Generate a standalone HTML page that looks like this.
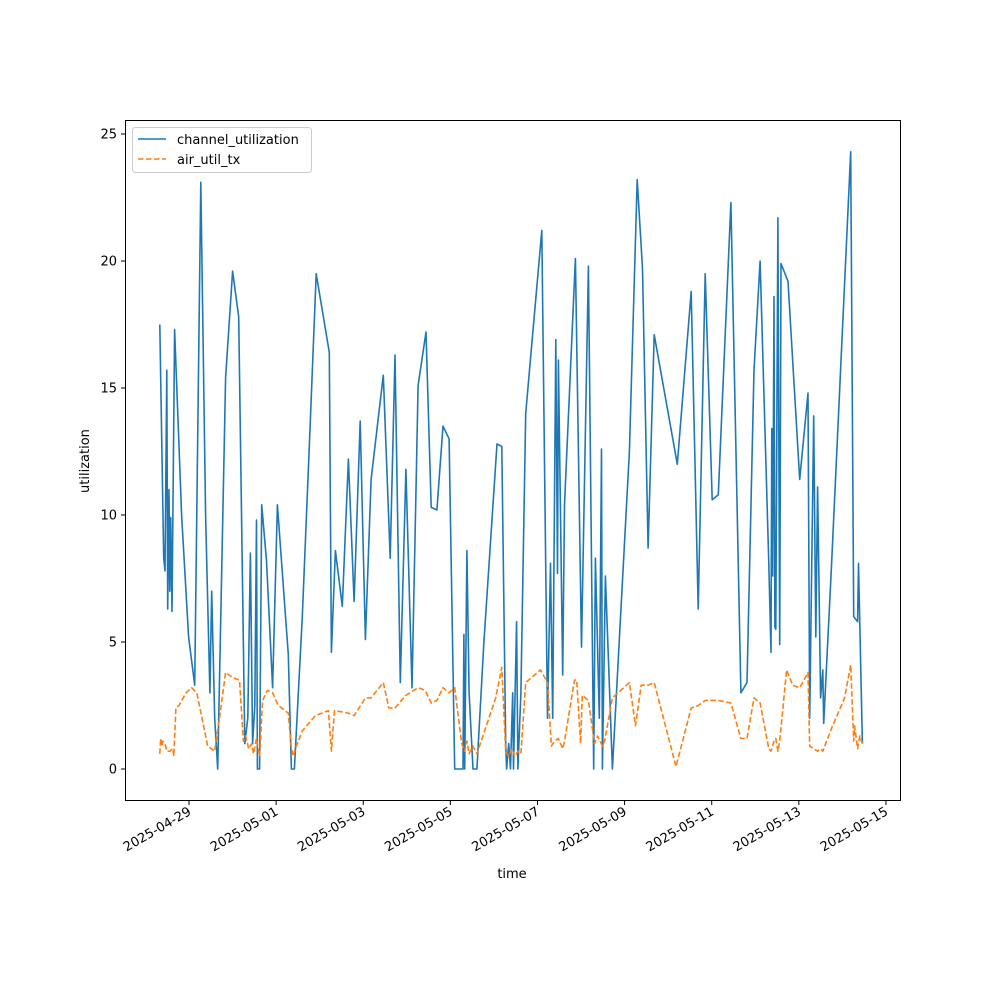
<!DOCTYPE html>
<html><head><meta charset="utf-8"><style>
body{margin:0;background:#fff}
svg{display:block;font-family:"DejaVu Sans","Liberation Sans",sans-serif}
</style></head><body>
<svg width="1000" height="1000" viewBox="0 0 1000 1000">
<g id="plot"></g>
</svg>
<script>
// time: days since 2025-04-28 09:36 (tick 2025-04-29 at 0.6)
const chanTime=[-0.07,0.02,0.05,0.09,0.11,0.14,0.16,0.18,0.21,0.27,0.43,0.59,0.73,0.87,0.98,1.08,1.12,1.19,1.26,1.44,1.60,1.74,1.88,1.95,2.01,2.06,2.11,2.15,2.17,2.22,2.27,2.38,2.52,2.63,2.88,2.95,3.02,3.20,3.36,3.52,3.82,3.87,3.96,4.12,4.26,4.39,4.53,4.65,4.78,5.06,5.22,5.33,5.45,5.58,5.72,5.86,6.04,6.16,6.29,6.43,6.57,6.70,6.89,6.91,6.93,6.98,7.03,7.12,7.21,7.37,7.67,7.78,7.87,7.89,7.94,7.98,8.03,8.05,8.12,8.15,8.22,8.33,8.70,8.83,8.90,8.95,9.02,9.06,9.08,9.18,9.22,9.47,9.61,9.77,9.89,9.93,10.02,10.07,10.09,10.16,10.32,10.71,10.89,11.01,11.14,11.28,11.81,12.13,12.29,12.45,12.61,12.75,13.04,13.27,13.41,13.57,13.71,13.91,13.96,13.98,14.00,14.03,14.05,14.07,14.12,14.16,14.19,14.35,14.62,14.81,14.85,14.94,14.99,15.03,15.10,15.15,15.17,15.35,15.79,15.86,15.95,15.97,16.06];
const chanValues=[17.5,8.3,7.8,15.7,6.3,11,7,9.9,6.2,17.3,10,5.2,3.3,23.1,10,3,7,2,0,15.4,19.6,17.8,1,2,8.5,1,2.5,9.8,0,0,10.4,8.2,3.2,10.4,4.5,0,0,6,12.6,19.5,16.4,4.6,8.6,6.4,12.2,6.6,13.7,5.1,11.4,15.5,8.3,16.3,3.4,11.8,3.2,15.1,17.2,10.3,10.2,13.5,13,0,0,5.3,0,8.6,3,0,0,5,12.8,12.7,1,0,1,0,3,0,5.8,0,3,14,21.2,2,8.1,2,16.9,7.7,16.1,3.7,10.4,20.1,4.8,19.8,0,8.3,2,12.6,0,7.6,0,12.5,23.2,19.7,8.7,17.1,12,18.8,6.3,19.5,10.6,10.8,22.3,3,3.4,15.7,20,8.1,4.6,13.4,7.6,18.6,5.6,5.5,21.7,4.9,19.9,19.2,11.4,14.8,2,13.9,5.2,11.1,2.8,3.9,1.8,8,24.3,6,5.8,8.1,1];
const airTime=[-0.07,-0.05,-0.02,0,0.05,0.09,0.16,0.23,0.25,0.30,0.37,0.53,0.66,0.78,1.03,1.19,1.30,1.44,1.60,1.76,1.85,1.90,1.97,2.04,2.08,2.15,2.22,2.29,2.40,2.52,2.65,2.88,2.95,3.00,3.04,3.20,3.50,3.80,3.87,3.94,4.26,4.39,4.65,4.78,5.06,5.19,5.33,5.58,5.86,6.02,6.16,6.29,6.43,6.57,6.70,6.86,6.93,6.98,7.03,7.12,7.21,7.64,7.78,7.87,7.94,8.01,8.08,8.15,8.22,8.33,8.67,8.83,8.92,8.99,9.08,9.18,9.22,9.45,9.50,9.59,9.63,9.77,9.91,9.98,10.09,10.14,10.32,10.71,10.85,10.98,11.14,11.28,11.78,12.13,12.29,12.45,12.61,12.75,13.04,13.27,13.41,13.57,13.71,13.91,13.96,14.03,14.07,14.12,14.16,14.32,14.46,14.62,14.81,14.85,15.03,15.10,15.15,15.35,15.65,15.79,15.86,15.88,15.95,16.00,16.06];
const airValues=[0.6,1.2,0.9,1.1,1.0,0.7,0.7,0.8,0.5,2.4,2.5,3,3.2,3,0.9,0.7,2,3.8,3.6,3.5,1.1,1.3,0.8,1,0.6,1.2,0.5,2.7,3.1,3,2.5,2.2,0.8,0.5,0.8,1.5,2.1,2.3,0.7,2.3,2.2,2.1,2.8,2.8,3.4,2.4,2.4,2.9,3.2,3.1,2.6,2.7,3.2,3,3.2,1,0.7,1.1,0.6,0.9,0.6,2.8,4,0.7,0.5,0.8,0.5,0.7,0.6,3.4,3.9,3.4,0.9,1.1,1.2,0.8,1.1,3.5,3.5,1,2.9,2.7,1,1.3,0.9,1.1,2.8,3.4,1.7,3.3,3.3,3.4,0.1,2.4,2.5,2.7,2.7,2.7,2.6,1.2,1.2,2.8,2.6,0.8,0.7,1.1,1.2,0.7,1.1,3.9,3.3,3.2,3.8,0.9,0.7,0.8,0.7,1.6,2.8,4.1,1.1,1.7,0.8,1.3,1];
const xTickDays=[0.6,2.6,4.6,6.6,8.6,10.6,12.6,14.6,16.6];
const xTickLabels=["2025-04-29","2025-05-01","2025-05-03","2025-05-05","2025-05-07","2025-05-09","2025-05-11","2025-05-13","2025-05-15"];
const yTicks=[0,5,10,15,20,25];

const X=d=>189+(d-0.6)*43.56;
const Y=v=>769-v*25.4;
const NS="http://www.w3.org/2000/svg";
const g=document.getElementById('plot');
function mk(t,a,parent){const e=document.createElementNS(NS,t);for(const k in a)e.setAttribute(k,a[k]);(parent||g).appendChild(e);return e;}

const frame=mk('rect',{x:125.5,y:120.5,width:775,height:680,fill:'none',stroke:'#000','stroke-width':1});



yTicks.forEach(v=>{
  const t=mk('line',{x1:121,x2:125.5,y1:Y(v),y2:Y(v),stroke:'#000'});
  
  
  const l=mk('text',{x:117,y:Y(v)+4.5,'text-anchor':'end','font-size':13});
  l.textContent=v;
  
  
});
xTickDays.forEach((d,i)=>{
  const t=mk('line',{x1:X(d),x2:X(d),y1:800.5,y2:805,stroke:'#000'});
  
  
  const l=mk('text',{x:X(d)+3,y:814,'text-anchor':'end','font-size':13,transform:`rotate(-30 ${X(d)+3} 814)`});
  l.textContent=xTickLabels[i];
  
  
});

function line(ts,vs,color,dash,name){
  const d=ts.map((t,i)=>(i?'L':'M')+X(t).toFixed(1)+','+Y(vs[i]).toFixed(1)).join('');
  const p=mk('path',{d:d,fill:'none',stroke:color,'stroke-width':1.6,'stroke-linejoin':'round'});
  if(dash)p.setAttribute('stroke-dasharray',dash);
  
  
}
line(chanTime,chanValues,'#1f77b4',null,'channel-utilization-line');
line(airTime,airValues,'#ff7f0e','5.5,2.5','air-util-tx-line');

const xt=mk('text',{x:512,y:878,'text-anchor':'middle','font-size':13});
xt.textContent='time';


const yt=mk('text',{x:89,y:461,'text-anchor':'middle','font-size':13,transform:'rotate(-90 89 461)'});
yt.textContent='utilization';



const lg=mk('g',{});


mk('rect',{x:132.5,y:127.5,width:179,height:45,rx:3,fill:'#fff',stroke:'#ccc'},lg);
const e1=mk('line',{x1:138,x2:166,y1:139,y2:139,stroke:'#1f77b4','stroke-width':1.6},lg);


const t1=mk('text',{x:177,y:144,'font-size':13},lg);
t1.textContent='channel_utilization';


const e2=mk('line',{x1:138,x2:166,y1:159,y2:159,stroke:'#ff7f0e','stroke-width':1.6,'stroke-dasharray':'5.5,2.5'},lg);


const t2=mk('text',{x:177,y:164,'font-size':13},lg);
t2.textContent='air_util_tx';


</script>
</body></html>
